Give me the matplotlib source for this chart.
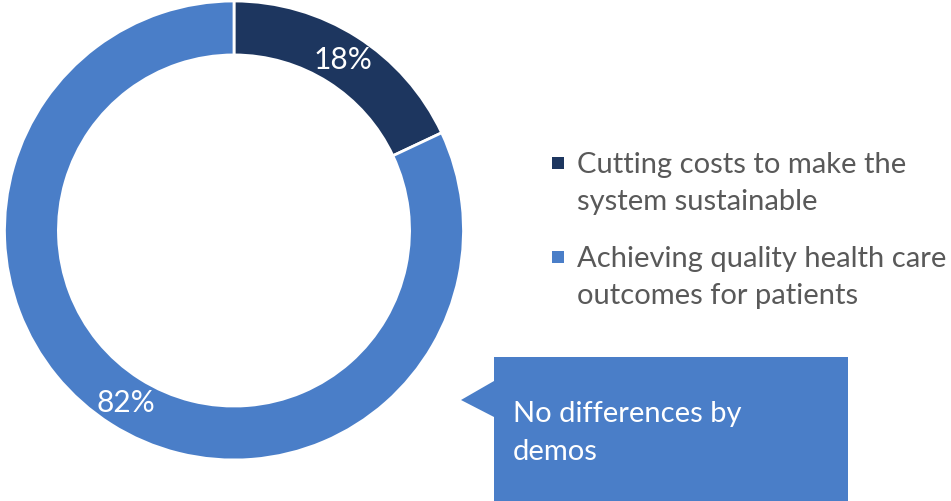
import matplotlib
matplotlib.use("Agg")
import matplotlib.pyplot as plt
from matplotlib.patches import Polygon, Rectangle

# donut: what matters more
labels = ["Cutting costs to make the\nsystem sustainable",
          "Achieving quality health care\noutcomes for patients"]
shares = [18, 82]
colors = ["#1D365F", "#4A7EC8"]
note = "No differences by\ndemos"

plt.rcParams['font.family'] = ['Lato', 'DejaVu Sans']

W, H = 951, 502
fig = plt.figure(figsize=(W / 100, H / 100), dpi=100)

def fx(x):
    return x / W

def fy(y):
    return 1 - y / H

# place the pie axes in pixels: centre (234, 231.5), radius 229.5
cx, cy, r = 234, 231.5, 229.5
ax = fig.add_axes([(cx - r) / W, (H - cy - r) / H, 2 * r / W, 2 * r / H])
ring = 0.235
wedges, texts, autotexts = ax.pie(
    shares, colors=colors, startangle=90, counterclock=False, radius=1,
    autopct='%d%%', pctdistance=1 - ring / 2,
    wedgeprops=dict(width=ring, edgecolor='white', linewidth=2),
    textprops=dict(color='white', fontsize=21.5))
ax.set_xlim(-1, 1)
ax.set_ylim(-1, 1)
ax.set_aspect('auto')
ax.axis('off')

# legend, drawn by hand so the squares sit on the first line
# (multi-line text with va='baseline' sits on its last line)
for i, (lab, col) in enumerate(zip(labels, colors)):
    first = 173 + i * 94
    fig.add_artist(Rectangle((fx(552), fy(first - 3)), 12 / W, 12 / H,
                             transform=fig.transFigure, facecolor=col,
                             edgecolor='none'))
    fig.text(fx(577), fy(first + 37), lab, color='#595959', fontsize=21,
             va='baseline', ha='left', linespacing=1.54)

# callout box with pointer
pts = [(494, 358), (848, 358), (848, 502), (494, 502), (494, 418),
       (461, 401), (494, 382)]
fig.add_artist(Polygon([(fx(x), fy(y)) for x, y in pts],
                       closed=True, transform=fig.transFigure,
                       facecolor='#4A7EC8', edgecolor='none'))
fig.text(fx(513), fy(460), note, color='white', fontsize=21,
         va='baseline', ha='left', linespacing=1.58)

fig.savefig('out.png', dpi=100)
